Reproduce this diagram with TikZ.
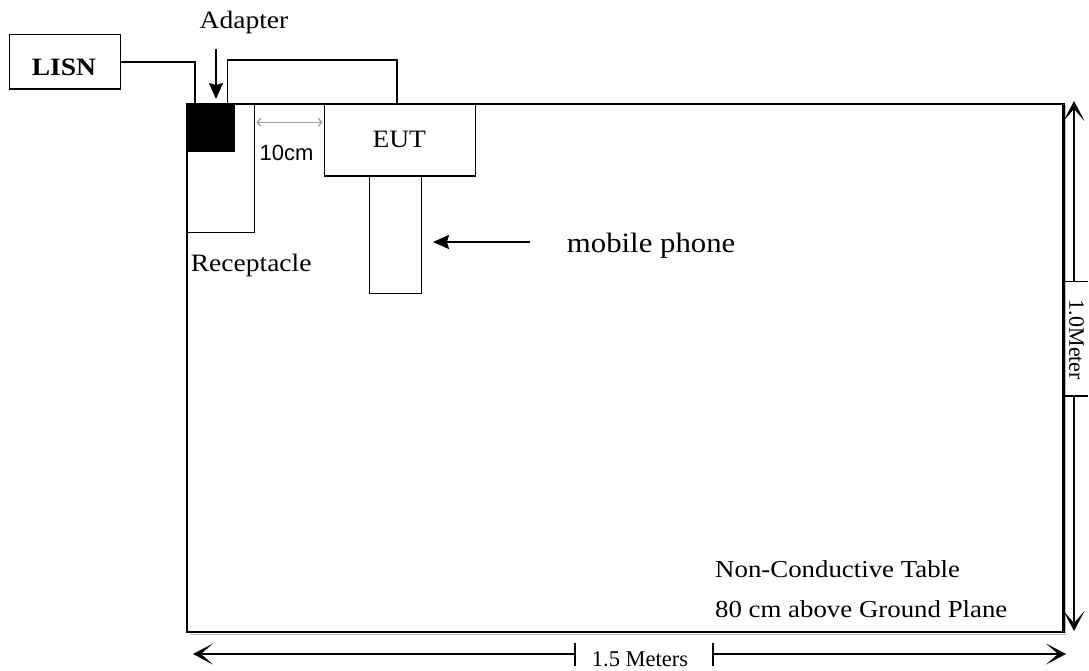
\documentclass[tikz,border=0pt]{standalone}
\usepackage{fontspec}
\setmainfont{Liberation Serif}[FakeStretch=1.1]
\newfontfamily\dimfont{Liberation Serif}
\newfontfamily\arialfont{Liberation Sans}
\usetikzlibrary{arrows.meta}
\begin{document}
\begin{tikzpicture}[x=1pt,y=-1pt,
  box/.style={draw, line width=1.3pt, inner sep=0pt, fill=white, anchor=north west},
  txt/.style={inner sep=0pt, font=\fontsize{25}{30}\selectfont},
  wire/.style={line width=1.3pt},
  bighead/.style={line width=1.3pt, -{Stealth[length=20pt,width=21pt,inset=12pt]}},
  fillhead/.style={line width=1.5pt, -{Stealth[length=16pt,width=14pt,inset=2pt]}},
  grayhead/.style={line width=1.2pt, gray!80, {Straight Barb[length=3.5pt,width=8pt]}-{Straight Barb[length=3.5pt,width=8pt]}},
  tick/.style={line width=1.3pt}
]
\useasboundingbox (0,0) rectangle (1089,671);
% table
\draw[line width=2.6pt, fill=white] (187,104) rectangle (1063.5,632);
\draw[line width=0.8pt, gray!50] (189.5,634) -- (1065.5,634) -- (1065.5,106);
% boxes
\node[box, minimum width=67pt, minimum height=127.5pt] (rec) at (187,104) {};
\node[box, fill=black, minimum width=47pt, minimum height=46.5pt] (adp) at (187,104) {};
\node[box, minimum width=150.5pt, minimum height=71.5pt] (eut) at (324,104) {};
\node[box, minimum width=52pt, minimum height=117.5pt] (phone) at (369,175.5) {};
\node[box, minimum width=111.5pt, minimum height=54.5pt] (lisn) at (8.5,34) {};
% texts
\node[txt, anchor=base] (adaptertxt) at (244,28.3) {Adapter};
\node[txt, anchor=base, font=\bfseries\fontsize{25}{30}\selectfont] (lisntxt) at (64,76) {LISN};
\node[txt, anchor=base] (euttxt) at (399.3,147.3) {EUT};
\node[inner sep=0pt, anchor=base, font=\arialfont\fontsize{22}{26}\selectfont] (tencm) at (286.5,160.7) {10cm};
\node[txt, anchor=base west] (rectxt) at (190.7,271.7) {Receptacle};
\node[txt, anchor=base west, font=\fontsize{28}{32}\selectfont] (mobtxt) at (566.7,252.7) {mobile phone};
\node[txt, anchor=base west, font=\fontsize{24.4}{30}\selectfont] (nct) at (715,577.3) {Non-Conductive Table};
\node[txt, anchor=base west, font=\fontsize{24.4}{30}\selectfont] (gp) at (715,617.3) {80 cm above Ground Plane};
\node[inner sep=0pt, anchor=base, font=\dimfont\fontsize{22.5}{26}\selectfont] (wlab) at (640,666) {1.5 Meters};
\node[inner sep=0pt, rotate=-90, font=\dimfont\fontsize{22}{26}\selectfont] (hlab) at (1076.5,340) {1.0Meter};
% wires
\draw[wire] (lisn.east) -| ([xshift=8pt]adp.north west);
\draw[wire] ([xshift=-8pt]adp.north east) -- ++(0,-44) -| ([xshift=-3pt]eut.north);
% arrows
\coordinate (adtail) at (216,49);
\coordinate (adtip) at (216,99);
\draw[fillhead] (adtail) -- (adtip);
\coordinate (tenL) at (256.5,122.3);
\coordinate (tenR) at (322.5,122.3);
\draw[grayhead] (tenL) -- (tenR);
\coordinate (mobtail) at (530,242);
\coordinate (mobtip) at (433,242);
\draw[fillhead] (mobtail) -- (mobtip);
% horizontal dimension
\coordinate (wL) at (193,654);
\coordinate (wR) at (1066,654);
\coordinate (wt1) at (575,654);
\coordinate (wt2) at (713,654);
\draw[bighead] (wt1) -- (wL);
\draw[bighead] (wt2) -- (wR);
\draw[tick] ([yshift=11pt]wt1) -- ([yshift=-12pt]wt1);
\draw[tick] ([yshift=11pt]wt2) -- ([yshift=-12pt]wt2);
% vertical dimension
\coordinate (hT) at (1074,101);
\coordinate (hB) at (1074,631);
\coordinate (ht1) at (1074,281.5);
\coordinate (ht2) at (1074,396);
\draw[bighead] (ht1) -- (hT);
\draw[bighead] (ht2) -- (hB);
\draw[tick] ([xshift=-9pt]ht1) -- ([xshift=14pt]ht1);
\draw[tick] ([xshift=-9pt]ht2) -- ([xshift=14pt]ht2);
\end{tikzpicture}
\end{document}
